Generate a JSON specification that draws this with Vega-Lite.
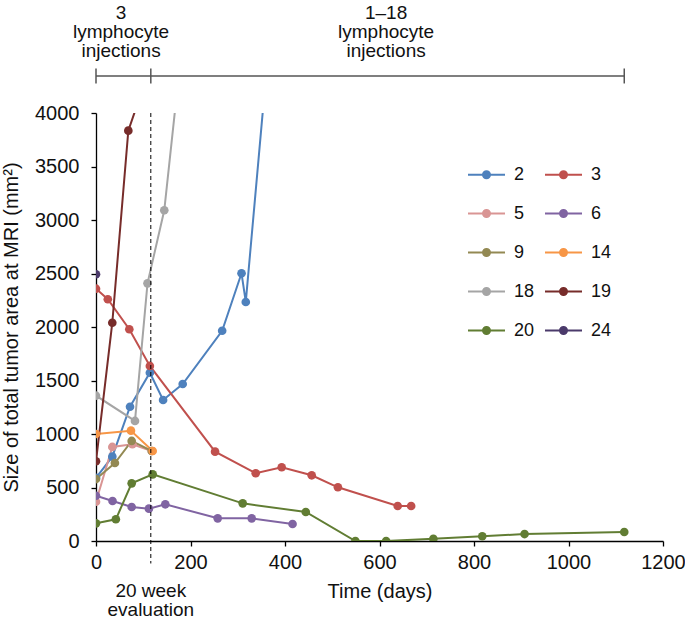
{
  "$schema": "https://vega.github.io/schema/vega-lite/v6.json",
  "width": 567,
  "height": 428,
  "autosize": {"type": "none"},
  "padding": {"left": 96, "top": 113, "right": 22, "bottom": 78},
  "background": "white",
  "config": {
    "view": {"stroke": null},
    "font": "Liberation Sans",
    "axis": {
      "grid": false,
      "domainColor": "#000000",
      "domainWidth": 1.3,
      "tickColor": "#000000",
      "tickWidth": 1.3,
      "tickSize": 5,
      "labelFontSize": 20,
      "labelColor": "#111111",
      "titleFontSize": 20,
      "titleFontWeight": "normal",
      "titleColor": "#111111"
    },
    "legend": {"labelFont": "Liberation Sans"}
  },
  "datasets": {
    "series": [
      {"patient": "2", "day": 0, "value": 590},
      {"patient": "2", "day": 34.5, "value": 788},
      {"patient": "2", "day": 72, "value": 1255},
      {"patient": "2", "day": 114, "value": 1573},
      {"patient": "2", "day": 142, "value": 1318},
      {"patient": "2", "day": 183.5, "value": 1467},
      {"patient": "2", "day": 267, "value": 1965},
      {"patient": "2", "day": 308, "value": 2502},
      {"patient": "2", "day": 317, "value": 2234},
      {"patient": "2", "day": 380, "value": 5350},
      {"patient": "3", "day": 0, "value": 2358},
      {"patient": "3", "day": 25, "value": 2259},
      {"patient": "3", "day": 70.5, "value": 1979},
      {"patient": "3", "day": 114, "value": 1636},
      {"patient": "3", "day": 252, "value": 835},
      {"patient": "3", "day": 338, "value": 633},
      {"patient": "3", "day": 393, "value": 689},
      {"patient": "3", "day": 456.5, "value": 614},
      {"patient": "3", "day": 512, "value": 502},
      {"patient": "3", "day": 638.5, "value": 327},
      {"patient": "3", "day": 667, "value": 327},
      {"patient": "5", "day": 0, "value": 367},
      {"patient": "5", "day": 34.5, "value": 879},
      {"patient": "5", "day": 77, "value": 904},
      {"patient": "5", "day": 118, "value": 841},
      {"patient": "6", "day": 0, "value": 423},
      {"patient": "6", "day": 35, "value": 374},
      {"patient": "6", "day": 75.5, "value": 318},
      {"patient": "6", "day": 112, "value": 302},
      {"patient": "6", "day": 146.7, "value": 343},
      {"patient": "6", "day": 257.6, "value": 212},
      {"patient": "6", "day": 329.5, "value": 212},
      {"patient": "6", "day": 416, "value": 159},
      {"patient": "9", "day": 0, "value": 579},
      {"patient": "9", "day": 40, "value": 729},
      {"patient": "9", "day": 75.5, "value": 935},
      {"patient": "9", "day": 118, "value": 841},
      {"patient": "14", "day": 0, "value": 1000},
      {"patient": "14", "day": 74, "value": 1031},
      {"patient": "14", "day": 120, "value": 841},
      {"patient": "18", "day": 0, "value": 1358},
      {"patient": "18", "day": 82.5, "value": 1122},
      {"patient": "18", "day": 109, "value": 2408},
      {"patient": "18", "day": 144.5, "value": 3091},
      {"patient": "18", "day": 190, "value": 4960},
      {"patient": "19", "day": 0, "value": 745},
      {"patient": "19", "day": 34.5, "value": 2040},
      {"patient": "19", "day": 68.4, "value": 3835},
      {"patient": "19", "day": 110, "value": 4370},
      {"patient": "20", "day": 0, "value": 165},
      {"patient": "20", "day": 42, "value": 203},
      {"patient": "20", "day": 75.5, "value": 539},
      {"patient": "20", "day": 120, "value": 623},
      {"patient": "20", "day": 310.5, "value": 352},
      {"patient": "20", "day": 444, "value": 271},
      {"patient": "20", "day": 549, "value": 0},
      {"patient": "20", "day": 614, "value": 0},
      {"patient": "20", "day": 714, "value": 20},
      {"patient": "20", "day": 817.5, "value": 44},
      {"patient": "20", "day": 907, "value": 65},
      {"patient": "20", "day": 1118, "value": 84},
      {"patient": "24", "day": 0, "value": 2493}
    ]
  },
  "layer": [
    {
      "data": {"name": "series"},
      "mark": {"type": "line", "strokeWidth": 2, "clip": true},
      "encoding": {
        "x": {
          "field": "day", "type": "quantitative",
          "scale": {"domain": [0, 1200], "nice": false, "zero": false},
          "axis": {"values": [0, 200, 400, 600, 800, 1000, 1200], "format": "d", "title": "Time (days)", "labelPadding": 6, "titlePadding": 9, "labelFlush": false}
        },
        "y": {
          "field": "value", "type": "quantitative",
          "scale": {"domain": [0, 4000], "nice": false, "zero": false},
          "axis": {"values": [0, 500, 1000, 1500, 2000, 2500, 3000, 3500, 4000], "format": "d", "title": "Size of total tumor area at MRI (mm²)", "labelPadding": 12, "titlePadding": 13, "labelFlush": false}
        },
        "color": {
          "field": "patient", "type": "nominal",
          "scale": {
            "domain": ["2", "5", "9", "18", "20", "3", "6", "14", "19", "24"],
            "range": ["#4e81bd", "#d99594", "#938953", "#a5a5a5", "#617d33", "#c0504d", "#8064a2", "#f79646", "#772c2a", "#4b3a6b"]
          },
          "legend": {
            "orient": "none",
            "legendX": 371,
            "legendY": 42,
            "columns": 2,
            "title": null,
            "padding": 0,
            "symbolType": "M-1,0L1,0M-0.19,0A0.19,0.19,0,1,1,0.19,0A0.19,0.19,0,1,1,-0.19,0Z",
            "symbolSize": 1369,
            "symbolStrokeWidth": 2,
            "labelFontSize": 18,
            "labelColor": "#111111",
            "labelOffset": 8,
            "rowPadding": 10,
            "columnPadding": 6,
            "encode": {
              "symbols": {
                "update": {
                  "fill": {"scale": "color", "field": "value"},
                  "stroke": {"scale": "color", "field": "value"},
                  "opacity": {"value": 1},
                  "fillOpacity": {"value": 1}
                }
              }
            }
          }
        }
      }
    },
    {
      "data": {"name": "series"},
      "mark": {"type": "circle", "size": 75, "opacity": 1, "clip": true},
      "encoding": {
        "x": {"field": "day", "type": "quantitative"},
        "y": {"field": "value", "type": "quantitative"},
        "color": {"field": "patient", "type": "nominal"}
      }
    },
    {
      "data": {"values": [{"day": 116, "value": 4000, "value2": -210}]},
      "mark": {"type": "rule", "color": "#000000", "strokeWidth": 1, "strokeDash": [4, 3]},
      "encoding": {
        "x": {"field": "day", "type": "quantitative"},
        "y": {"field": "value", "type": "quantitative"},
        "y2": {"field": "value2"}
      }
    },
    {
      "data": {"values": [{"day": 0, "day2": 1118, "value": 4346}]},
      "mark": {"type": "rule", "color": "#555555", "strokeWidth": 1.5},
      "encoding": {
        "x": {"field": "day", "type": "quantitative"},
        "x2": {"field": "day2"},
        "y": {"field": "value", "type": "quantitative"}
      }
    },
    {
      "data": {"values": [
        {"day": 0, "value": 4276, "value2": 4416},
        {"day": 116, "value": 4276, "value2": 4416},
        {"day": 1118, "value": 4276, "value2": 4416}
      ]},
      "mark": {"type": "rule", "color": "#555555", "strokeWidth": 1.5},
      "encoding": {
        "x": {"field": "day", "type": "quantitative"},
        "y": {"field": "value", "type": "quantitative"},
        "y2": {"field": "value2"}
      }
    },
    {
      "data": {"values": [
        {"day": 53, "value": 4935, "label": "3\nlymphocyte\ninjections"},
        {"day": 614, "value": 4935, "label": "1–18\nlymphocyte\ninjections"}
      ]},
      "mark": {"type": "text", "fontSize": 19, "lineHeight": 19, "lineBreak": "\n", "align": "center", "baseline": "middle", "color": "#111111"},
      "encoding": {
        "x": {"field": "day", "type": "quantitative"},
        "y": {"field": "value", "type": "quantitative"},
        "text": {"field": "label"}
      }
    },
    {
      "data": {"values": [
        {"day": 116, "value": -465, "label": "20 week\nevaluation"}
      ]},
      "mark": {"type": "text", "fontSize": 19, "lineHeight": 19, "lineBreak": "\n", "align": "center", "baseline": "middle", "color": "#111111"},
      "encoding": {
        "x": {"field": "day", "type": "quantitative"},
        "y": {"field": "value", "type": "quantitative"},
        "text": {"field": "label"}
      }
    }
  ]
}
